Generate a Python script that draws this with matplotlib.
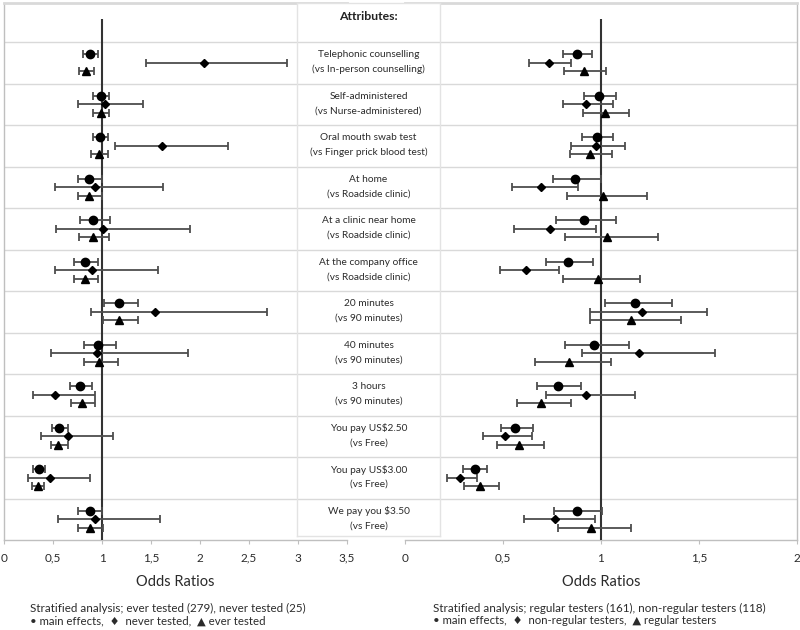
import matplotlib
matplotlib.use("Agg")
import matplotlib.pyplot as plt
import numpy as np

plt.rcParams['font.family'] = ['Lato', 'DejaVu Sans']

attributes = ["Telephonic counselling", "Self-administered", "Oral mouth swab test",
              "At home", "At a clinic near home", "At the company office",
              "20 minutes", "40 minutes", "3 hours",
              "You pay US$2.50", "You pay US$3.00", "We pay you $3.50"]
references = ["(vs In-person counselling)", "(vs Nurse-administered)", "(vs Finger prick blood test)",
              "(vs Roadside clinic)", "(vs Roadside clinic)", "(vs Roadside clinic)",
              "(vs 90 minutes)", "(vs 90 minutes)", "(vs 90 minutes)",
              "(vs Free)", "(vs Free)", "(vs Free)"]

# main effects (shared by both panels)
main_or = [0.88, 0.99, 0.98, 0.867, 0.912, 0.83, 1.176, 0.962, 0.78, 0.563, 0.355, 0.875]
main_lo = [0.808, 0.912, 0.905, 0.754, 0.772, 0.718, 1.02, 0.815, 0.675, 0.488, 0.298, 0.76]
main_hi = [0.956, 1.074, 1.063, 1.0, 1.078, 0.957, 1.363, 1.142, 0.899, 0.655, 0.416, 1.003]

# left panel: never tested (diamond), ever tested (triangle)
never_or = [2.04, 1.03, 1.61, 0.925, 1.007, 0.898, 1.544, 0.952, 0.517, 0.65, 0.466, 0.932]
never_lo = [1.45, 0.755, 1.135, 0.524, 0.53, 0.517, 0.89, 0.483, 0.293, 0.378, 0.248, 0.55]
never_hi = [2.89, 1.42, 2.29, 1.62, 1.9, 1.575, 2.68, 1.878, 0.925, 1.115, 0.88, 1.59]
ever_or = [0.84, 0.99, 0.966, 0.867, 0.91, 0.827, 1.17, 0.966, 0.793, 0.554, 0.344, 0.874]
ever_lo = [0.77, 0.91, 0.89, 0.75, 0.765, 0.71, 1.007, 0.813, 0.68, 0.476, 0.29, 0.758]
ever_hi = [0.92, 1.075, 1.06, 1.0, 1.075, 0.96, 1.37, 1.16, 0.929, 0.65, 0.408, 1.01]

# right panel: non-regular testers (diamond), regular testers (triangle)
nonreg_or = [0.735, 0.925, 0.976, 0.696, 0.738, 0.616, 1.208, 1.196, 0.922, 0.509, 0.279, 0.765]
nonreg_lo = [0.634, 0.805, 0.848, 0.544, 0.558, 0.483, 0.942, 0.905, 0.721, 0.4, 0.213, 0.607]
nonreg_hi = [0.848, 1.061, 1.122, 0.884, 0.974, 0.787, 1.541, 1.582, 1.175, 0.65, 0.369, 0.97]
reg_or = [0.912, 1.02, 0.944, 1.009, 1.029, 0.983, 1.153, 0.837, 0.696, 0.58, 0.383, 0.949]
reg_lo = [0.813, 0.908, 0.84, 0.826, 0.815, 0.807, 0.944, 0.665, 0.571, 0.471, 0.302, 0.781]
reg_hi = [1.026, 1.143, 1.056, 1.235, 1.292, 1.199, 1.408, 1.053, 0.848, 0.709, 0.481, 1.153]

left_ticks = [0, 0.5, 1, 1.5, 2, 2.5, 3, 3.5]
left_ticklabels = ["0", "0,5", "1", "1,5", "2", "2,5", "3", "3,5"]
right_ticks = [0, 0.5, 1, 1.5, 2]
right_ticklabels = ["0", "0,5", "1", "1,5", "2"]

W, H = 800, 630
fig = plt.figure(figsize=(8, 6.3), dpi=100)
fig.patch.set_facecolor('white')

GRID = '#d9d9d9'
AXC = '#bfbfbf'
ERR = '#4d4d4d'
TXT = '#2b2b2b'
n = len(attributes)
ytop = -0.94
rows = np.arange(n)


def fa(x0, y0, x1, y1):
    return [x0 / W, 1 - y1 / H, (x1 - x0) / W, (y1 - y0) / H]


def panel(ax, xmax, ticks, ticklabels, s2, s3):
    ax.set_xlim(0, xmax)
    ax.set_ylim(n, ytop)
    for g in range(n):
        ax.axhline(g, color=GRID, lw=1, zorder=1)
    ax.plot([1, 1], [-0.55, n], color='#333333', lw=1.5, zorder=3, solid_capstyle='butt')
    specs = [(main_or, main_lo, main_hi, 'o', 6.0, 0.3),
             (s2[0], s2[1], s2[2], 'D', 4.2, 0.5),
             (s3[0], s3[1], s3[2], '^', 6.0, 0.7)]
    for v, lo, hi, m, ms, off in specs:
        v = np.array(v); lo = np.array(lo); hi = np.array(hi)
        ax.errorbar(v, rows + off, xerr=[v - lo, hi - v], fmt='none', ecolor=ERR,
                    elinewidth=1.3, capsize=3, capthick=1.3, zorder=4)
        ax.plot(v, rows + off, ls='none', marker=m, ms=ms, color='black', zorder=5)
    ax.set_xticks(ticks)
    ax.set_xticklabels(ticklabels)
    ax.set_yticks([])
    ax.tick_params(axis='x', length=3, color=AXC, labelsize=8.5, labelcolor=TXT, pad=6)
    for s in ['top', 'bottom', 'left', 'right']:
        ax.spines[s].set_color(AXC)
        ax.spines[s].set_linewidth(1)
    ax.spines['top'].set_color('#d9d9d9')
    ax.spines['top'].set_linewidth(2)
    ax.set_xlabel("Odds Ratios", fontsize=10.5, color=TXT, labelpad=8)
    ax.set_facecolor('white')


axL = fig.add_axes(fa(4, 3, 347, 540))
panel(axL, 3.5, left_ticks, left_ticklabels, (never_or, never_lo, never_hi), (ever_or, ever_lo, ever_hi))
axL.spines['right'].set_visible(False)

axR = fig.add_axes(fa(405, 3, 797, 540))
panel(axR, 2, right_ticks, right_ticklabels, (nonreg_or, nonreg_lo, nonreg_hi), (reg_or, reg_lo, reg_hi))
axR.spines['left'].set_visible(False)

# middle attribute column
axM = fig.add_axes(fa(297, 3, 440, 536))
axM.set_zorder(10)
axM.set_xlim(0, 1)
axM.set_ylim((536 - 42) / 41.5, ytop)
axM.set_facecolor('white')
axM.set_xticks([]); axM.set_yticks([])
for s in ['top', 'bottom', 'left', 'right']:
    axM.spines[s].set_color('#e3e3e3')
    axM.spines[s].set_linewidth(1)
for g in range(n):
    axM.axhline(g, color=GRID, lw=1)
axM.text(0.5, -0.62, "Attributes:", ha='center', va='center', fontsize=8.8,
         fontweight='bold', color='#222222')
for i in range(n):
    axM.text(0.5, i + 0.31, attributes[i], ha='center', va='center', fontsize=7.3,
             color=TXT, parse_math=False)
    axM.text(0.5, i + 0.66, references[i], ha='center', va='center', fontsize=7.3,
             color=TXT, parse_math=False)

# footers
fig.text(30 / W, 1 - 608 / H, "Stratified analysis; ever tested (279), never tested (25)",
         ha='left', va='center', fontsize=8.4, color=TXT)
fig.text(30 / W, 1 - 621 / H, "\u2022 main effects,  \u2666  never tested,  \u25B2 ever tested",
         ha='left', va='center', fontsize=8.2, color=TXT)
fig.text(433 / W, 1 - 608 / H, "Stratified analysis; regular testers (161), non-regular testers (118)",
         ha='left', va='center', fontsize=8.4, color=TXT)
fig.text(433 / W, 1 - 621 / H, "\u2022 main effects,  \u2666  non-regular testers,  \u25B2 regular testers",
         ha='left', va='center', fontsize=8.2, color=TXT)

fig.savefig("out.png", dpi=100, facecolor='white')
